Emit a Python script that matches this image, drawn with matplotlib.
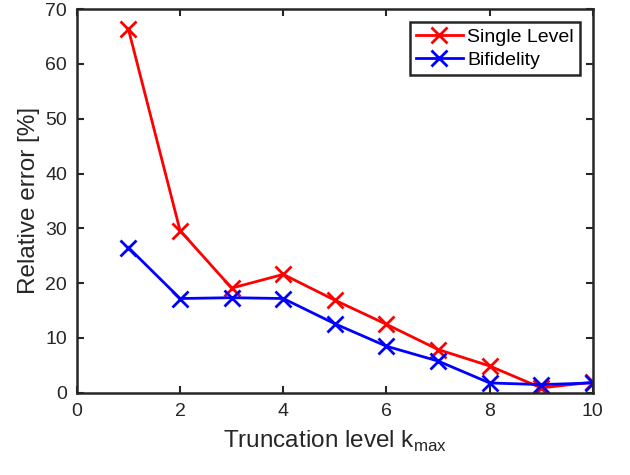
import numpy as np
import matplotlib
matplotlib.use("Agg")
import matplotlib.pyplot as plt

plt.rcParams['font.family'] = ['Liberation Sans', 'DejaVu Sans']

# truncation levels and relative errors [%]
k = [1, 2, 3, 4, 5, 6, 7, 8, 9, 10]
single_level = [66.3, 29.6, 19.1, 21.6, 16.9, 12.5, 7.9, 4.9, 0.9, 1.95]
bifidelity = [26.5, 17.2, 17.35, 17.2, 12.6, 8.5, 5.8, 1.8, 1.5, 1.8]

xticks = [0, 2, 4, 6, 8, 10]
yticks = [0, 10, 20, 30, 40, 50, 60, 70]

fig = plt.figure(figsize=(6.3, 4.75), dpi=100)
ax = fig.add_axes([0.122, 0.173, 0.819, 0.808])

ax.plot(k, single_level, color='red', lw=2, marker='x', ms=11, mew=2, label='Single Level')
ax.plot(k, bifidelity, color='blue', lw=2, marker='x', ms=11, mew=2, label='Bifidelity')

ax.set_xlim(0, 10)
ax.set_ylim(0, 70)
ax.set_xticks(xticks)
ax.set_yticks(yticks)
ax.tick_params(direction='in', top=True, right=True, length=5, width=1.5,
               labelsize=14, colors='#262626', pad=7)
for s in ax.spines.values():
    s.set_linewidth(1.8)
    s.set_color('#262626')

ax.set_xlabel('Truncation level k$_{\\mathregular{max}}$', fontsize=17.5, color='#262626', labelpad=7)
ax.set_ylabel('Relative error [%]', fontsize=17.5, color='#262626', labelpad=4)

leg = ax.legend(loc='upper right', bbox_to_anchor=(0.975, 0.966), fontsize=14,
                fancybox=False, edgecolor='#262626', framealpha=1,
                handlelength=2.4, borderpad=0.3, labelspacing=0.3,
                handletextpad=0.25, borderaxespad=0)
leg.get_frame().set_linewidth(1.8)

fig.savefig('out.png', dpi=100)
